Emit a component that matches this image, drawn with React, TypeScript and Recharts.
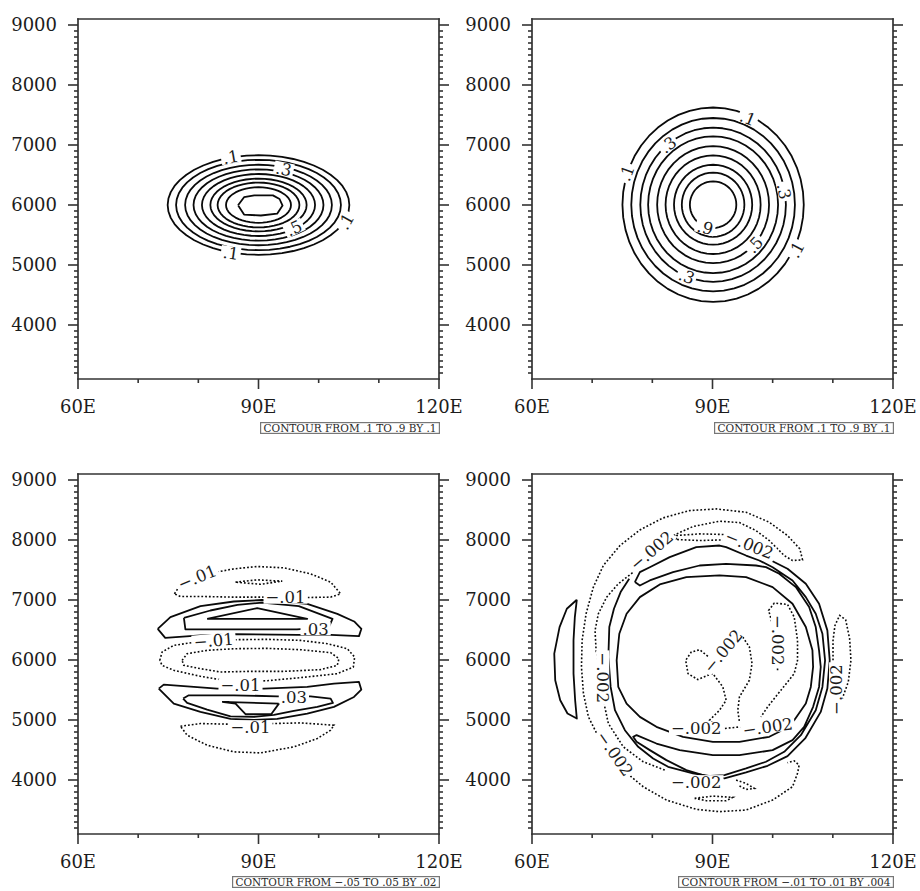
import React from "react";
import { ComposedChart, Line, Scatter, XAxis, YAxis } from "recharts";

type Pt = { x: number; y: number };
type XY = [number, number];
type Label = { x: number; y: number; text: string; angle: number };

// ---- axes ----
const LON_DOMAIN: [number, number] = [60, 120];
const HGT_DOMAIN: [number, number] = [3100, 9100];
const LON_TICKS = [60, 70, 80, 90, 100, 110, 120];
const LON_LABELS: Record<number, string> = { 60: "60E", 90: "90E", 120: "120E" };
const HGT_TICKS = Array.from({ length: 59 }, (_, i) => 3200 + i * 100);
const HGT_LABELS = [4000, 5000, 6000, 7000, 8000, 9000];

// ---- panel 1: flat ellipses, levels .1 .. .8 (semi-axes) ----
const P1_CENTER: XY = [90, 6000];
const P1_RX = [15.1, 13.7, 12.2, 10.8, 9.4, 8.0, 6.8, 5.4];
const P1_RY = [830, 753, 671, 594, 517, 440, 374, 297];
// innermost (.9) is a flat hexagon
const P1_CORE: XY[] = [
  [86.6, 5995], [87.6, 6130], [89.3, 6160], [92.4, 6160], [93.5, 6100],
  [94.0, 5990], [93.1, 5855], [90.4, 5825], [87.6, 5840], [86.6, 5995],
];
const P1_LABELS: Label[] = [
  { x: 85.4, y: 6800, text: ".1", angle: -10 },
  { x: 94.2, y: 6600, text: ".3", angle: 12 },
  { x: 95.9, y: 5617, text: ".5", angle: -25 },
  { x: 104.5, y: 5727, text: ".1", angle: -61 },
  { x: 85.4, y: 5200, text: ".1", angle: 8 },
];

// ---- panel 2: near-circles, levels .1 .. .9 ----
const P2_CENTER: XY = [90.1, 6005];
const P2_RX = [15.07, 13.6, 12.1, 10.8, 9.3, 7.9, 6.5, 5.2, 3.86];
const P2_RY = [1620, 1445, 1285, 1140, 975, 822, 666, 535, 388];
const P2_LABELS: Label[] = [
  { x: 95.9, y: 7450, text: ".1", angle: 22 },
  { x: 82.6, y: 7005, text: ".3", angle: -37 },
  { x: 75.7, y: 6533, text: ".1", angle: -70 },
  { x: 101.9, y: 6227, text: ".3", angle: 79 },
  { x: 88.8, y: 5625, text: ".9", angle: 15 },
  { x: 97.0, y: 5338, text: ".5", angle: -46 },
  { x: 103.9, y: 5255, text: ".1", angle: -62 },
  { x: 85.7, y: 4810, text: ".3", angle: 20 },
];

// ---- panel 3: banded field, -.05 .. .05 by .02 ----
const P3_TOP_OUTER: XY[] = [
  [76.03, 7103], [76.75, 7214], [78.69, 7325], [81.46, 7436], [85.9, 7519], [89.78, 7558],
  [94.22, 7536], [98.66, 7436], [101.99, 7298], [103.65, 7103], [101.99, 7048], [96.99, 7040],
  [91.45, 7048], [85.9, 7048], [80.35, 7059], [77.03, 7059], [76.03, 7103],
];
const P3_TOP_LENS: XY[] = [[86.18, 7298], [89.78, 7336], [93.94, 7314], [90.34, 7262], [86.18, 7298]];
const P3_UP_01: XY[] = [
  [73.25, 6520], [75.36, 6714], [80.35, 6897], [85.9, 6975], [90.6, 7000], [98.1, 6936],
  [103.1, 6769], [105.9, 6642], [107.1, 6520], [106.7, 6398], [102.0, 6420], [96.4, 6420],
  [86.2, 6431], [80.35, 6409], [74.5, 6370], [73.25, 6520],
];
const P3_UP_03: XY[] = [
  [77.6, 6703], [82.0, 6825], [86.5, 6920], [90.6, 6955], [96.7, 6897], [102.3, 6686],
  [101.7, 6548], [96.4, 6509], [77.85, 6509], [77.6, 6703],
];
const P3_UP_05: XY[] = [[81.46, 6686], [89.78, 6864], [98.1, 6686], [81.46, 6686]];
const P3_MID_01: XY[] = [
  [73.59, 5994], [73.98, 6133], [75.92, 6244], [80.35, 6310], [85.9, 6338], [91.45, 6344],
  [96.99, 6327], [101.43, 6272], [104.76, 6188], [105.98, 6050], [105.76, 5883], [103.09, 5772],
  [96.99, 5706], [91.45, 5655], [85.9, 5635], [80.35, 5728], [75.92, 5828], [73.98, 5911],
  [73.59, 5994],
];
const P3_MID_03: XY[] = [
  [77.3, 5994], [78.14, 6105], [81.46, 6161], [85.9, 6188], [91.45, 6194], [96.99, 6172],
  [101.99, 6122], [103.37, 6022], [103.09, 5911], [100.32, 5839], [94.22, 5811], [88.67, 5811],
  [83.68, 5800], [80.35, 5856], [77.58, 5911], [77.3, 5994],
];
const P3_LOW_01: XY[] = [
  [73.42, 5523], [74.25, 5590], [78.14, 5562], [83.13, 5523], [90.89, 5523], [98.1, 5551],
  [102.54, 5606], [106.7, 5634], [107.09, 5506], [105.87, 5384], [102.54, 5218], [98.1, 5107],
  [93.11, 5018], [89.23, 5002], [85.35, 5018], [80.35, 5135], [75.92, 5273], [73.42, 5523],
];
const P3_LOW_03: XY[] = [
  [77.47, 5357], [78.41, 5412], [85.9, 5412], [93.11, 5395], [98.66, 5395], [101.99, 5357],
  [102.37, 5285], [99.77, 5218], [95.88, 5151], [92.56, 5085], [89.23, 5051], [85.35, 5062],
  [81.46, 5174], [78.14, 5285], [77.47, 5357],
];
const P3_LOW_05: XY[] = [[83.96, 5301], [93.39, 5273], [92.11, 5096], [87.84, 5096], [86.18, 5273], [83.96, 5301]];
const P3_BOT_01: XY[] = [
  [77.03, 4896], [80.35, 4941], [85.35, 4930], [92.56, 4941], [96.99, 4952], [102.54, 4913],
  [101.99, 4830], [99.77, 4691], [95.88, 4552], [90.34, 4452], [85.9, 4469], [81.46, 4580],
  [78.14, 4746], [77.03, 4896],
];
const P3_LABELS: Label[] = [
  { x: 79.8, y: 7381, text: "−.01", angle: -22 },
  { x: 94.5, y: 7048, text: "−.01", angle: 0 },
  { x: 99.49, y: 6521, text: ".03", angle: 0 },
  { x: 82.57, y: 6327, text: "−.01", angle: -5 },
  { x: 87.01, y: 5585, text: "−.01", angle: 0 },
  { x: 95.88, y: 5384, text: ".03", angle: 0 },
  { x: 88.67, y: 4885, text: "−.01", angle: 0 },
];

// ---- panel 4: ring field, -.01 .. .01 by .004 ----
const P4_INNER: XY[] = [
  [74.07, 5995], [74.51, 6438], [75.72, 6771], [77.93, 7048], [81.24, 7259], [85.65, 7381],
  [91.17, 7409], [95.58, 7381], [99.99, 7215], [103.3, 6937], [105.51, 6549], [106.61, 6161],
  [106.72, 5884], [106.34, 5551], [105.51, 5274], [103.58, 4997], [101.09, 4803], [99.44, 4720],
  [94.48, 4636], [90.06, 4636], [85.1, 4720], [80.68, 4886], [77.93, 5052], [75.72, 5274],
  [74.34, 5551], [74.07, 5995],
];
const P4_BAND: XY[] = [
  [77.1, 7298], [77.93, 7242], [79.58, 7326], [83.44, 7464], [87.86, 7575], [92.27, 7603],
  [97.23, 7575], [98.89, 7547], [101.09, 7437], [103.85, 7215], [106.06, 6882], [107.16, 6549],
  [107.71, 6161], [107.99, 5884], [107.71, 5551], [106.72, 5219], [105.23, 4886], [103.3, 4664],
  [99.99, 4498], [94.48, 4414], [90.06, 4414], [84.55, 4498], [80.68, 4608], [77.38, 4747],
  [76.82, 4720], [77.38, 4636], [79.58, 4498], [82.34, 4331], [85.65, 4165], [88.96, 4065],
  [91.99, 4082], [95.58, 4193], [98.89, 4304], [101.92, 4470], [104.68, 4747], [107.16, 5163],
  [108.27, 5551], [108.71, 5995], [108.27, 6438], [107.16, 6771], [105.51, 7048], [103.3, 7326],
  [99.99, 7547], [97.78, 7658], [95.58, 7741], [92.27, 7880], [91.17, 7908], [87.3, 7880],
  [82.89, 7714], [79.58, 7547], [77.93, 7464], [77.1, 7298],
];
const P4_OUTER: XY[] = [
  [99.99, 7647], [102.47, 7520], [105.51, 7270], [107.71, 6937], [109.09, 6494], [109.48, 5995],
  [109.09, 5523], [107.99, 5135], [105.4, 4692], [102.47, 4398], [99.16, 4237], [95.58, 4126],
  [91.99, 4026], [86.75, 4110], [82.62, 4220], [80.13, 4359], [77.65, 4553], [75.44, 4830],
  [73.79, 5163], [73.07, 5551], [72.69, 6050], [72.85, 6549], [73.62, 6854], [74.73, 7132],
  [76.16, 7353],
];
const P4_WEST: XY[] = [
  [67.45, 7004], [65.79, 6854], [64.58, 6549], [63.7, 6106], [63.86, 5662], [64.69, 5329],
  [65.9, 5108], [67.45, 5024], [67.17, 5329], [66.9, 5773], [66.9, 6328], [67.12, 6716],
  [67.45, 7004],
];
const P4_DOT_RING: XY[] = [
  [82.06, 4165], [78.48, 4304], [75.17, 4553], [72.69, 4941], [71.86, 5329], [71.31, 5773],
  [70.65, 6161], [70.48, 6494], [71.03, 6771], [72.41, 7048], [74.34, 7270], [76.82, 7464],
  [79.03, 7658], [83.44, 8074], [86.75, 8224], [91.17, 8313], [94.48, 8290], [97.23, 8157],
  [99.44, 7991], [100.82, 7852], [101.92, 7741], [103.3, 7658], [104.96, 7669], [104.52, 7852],
  [102.47, 8074], [99.44, 8296], [95.58, 8462], [90.61, 8518], [86.2, 8490], [81.79, 8368],
  [77.93, 8168], [74.62, 7908], [71.86, 7575], [70.2, 7215], [68.99, 6771], [68.33, 6328],
  [68.22, 5884], [68.55, 5440], [69.38, 5052], [70.76, 4775], [75.17, 4165], [78.48, 3888],
  [82.34, 3666], [87.3, 3511], [91.17, 3472], [95.58, 3500], [99.99, 3666], [103.3, 3888],
  [104.13, 4110], [104.4, 4248], [103.58, 4320], [102.47, 4287],
];
const P4_LENS_N: XY[] = [
  [83.99, 8008], [83.99, 8074], [87.86, 8102], [92.27, 8091], [92.5, 8040], [91.72, 8002],
  [87.86, 7991], [83.99, 8008],
];
const P4_LENS_S: XY[] = [[87.03, 3694], [90.06, 3732], [93.37, 3710], [92.27, 3655], [88.96, 3655], [87.03, 3694]];
const P4_SQUIG: XY[] = [[93.92, 3999], [95.58, 3943], [96.96, 3860], [95.58, 3843], [94.2, 3915]];
const P4_CORE_W: XY[] = [
  [89.23, 6061], [87.86, 6172], [86.48, 6133], [85.54, 5995], [85.93, 5773], [87.58, 5673],
  [89.23, 5745], [90.06, 5773], [91.72, 5551], [92.27, 5329], [91.17, 5163], [89.51, 4997],
  [90.61, 4897],
];
const P4_CORE_E: XY[] = [
  [95.03, 6383], [96.13, 6217], [96.57, 5939], [96.13, 5662], [94.48, 5385], [94.2, 5163],
  [94.48, 4969],
];
const P4_CORE_LINK: XY[] = [[91.44, 4853], [94.75, 4886]];
const P4_EAST_IN: XY[] = [
  [100.82, 5828], [100.65, 6217], [100.1, 6549], [99.33, 6827], [100.27, 6949], [102.47, 6926],
  [103.58, 6716], [104.13, 6328], [104.13, 5995], [103.58, 5773], [101.37, 5496], [99.16, 5219],
  [98.06, 5052],
];
const P4_EAST_OUT: XY[] = [
  [110.03, 5995], [110.03, 6328], [110.36, 6577], [111.13, 6743], [112.13, 6671], [112.79, 6355],
  [113.01, 5995], [112.57, 5634], [111.57, 5357],
];
const P4_LABELS: Label[] = [
  { x: 79.86, y: 7825, text: "−.002", angle: -40 },
  { x: 96.13, y: 7924, text: "−.002", angle: 22 },
  { x: 91.72, y: 6150, text: "−.002", angle: -50 },
  { x: 100.82, y: 6328, text: "−.002", angle: 90 },
  { x: 71.75, y: 5706, text: "−.002", angle: 90 },
  { x: 110.47, y: 5507, text: "−.002", angle: -90 },
  { x: 73.79, y: 4442, text: "−.002", angle: 55 },
  { x: 87.3, y: 3971, text: "−.002", angle: 0 },
  { x: 87.3, y: 4858, text: "−.002", angle: 0 },
  { x: 99.16, y: 4886, text: "−.002", angle: -8 },
];

// ---- styling ----
const FONT = "'DejaVu Serif', 'Liberation Serif', serif";
const AXIS_COLOR = "#333";
const LINE_COLOR = "#0a0a0a";
const TEXT_COLOR = "#1c1c1c";
const PLOT_W = 361;
const PLOT_H = 360;
const Y_AXIS_W = 70;
const TOP_H = 12;
const RIGHT_W = 40;
const BOTTOM_H = 40;

const toPts = (a: XY[]): Pt[] => a.map(([x, y]) => ({ x, y }));

// closed outline of a contour ring given its centre and semi-axes
function ring([cx, cy]: XY, rx: number, ry: number): Pt[] {
  const pts: Pt[] = [];
  for (let i = 0; i <= 48; i++) {
    const t = (i / 48) * Math.PI * 2;
    pts.push({ x: cx + rx * Math.cos(t), y: cy + ry * Math.sin(t) });
  }
  return pts;
}

const GLYPH_W: Record<string, number> = { ".": 0.318, "−": 0.838 };

function ContourLabel(props: any) {
  const { cx, cy, payload } = props;
  if (cx == null || cy == null) return null;
  const fs = 16.5;
  const w = [...payload.text].reduce((s: number, c: string) => s + (GLYPH_W[c] ?? 0.636), 0) * fs + 4;
  const h = fs * 0.8;
  return (
    <g transform={`rotate(${payload.angle} ${cx} ${cy})`}>
      <rect x={cx - w / 2} y={cy - h / 2} width={w} height={h} fill="#fff" />
      <text x={cx} y={cy} dy="0.36em" textAnchor="middle" fontFamily={FONT} fontSize={fs} fill={TEXT_COLOR}>
        {payload.text}
      </text>
    </g>
  );
}

function makeTick(side: "bottom" | "top" | "left" | "right") {
  return (props: any) => {
    const { x, y, payload } = props;
    const v = payload.value as number;
    const horizontal = side === "bottom" || side === "top";
    const major = horizontal ? v in LON_LABELS : v % 1000 === 0;
    const len = major ? 10 : 4;
    if (horizontal) {
      const dir = side === "bottom" ? 1 : -1;
      return (
        <g>
          <line x1={x} y1={y} x2={x} y2={y + dir * len} stroke={AXIS_COLOR} strokeWidth={1.6} />
          {side === "bottom" && major && (
            <text x={x} y={y + 34} textAnchor="middle" fontFamily={FONT} fontSize={18} fill={TEXT_COLOR}>
              {LON_LABELS[v]}
            </text>
          )}
        </g>
      );
    }
    const dir = side === "left" ? -1 : 1;
    return (
      <g>
        <line x1={x} y1={y} x2={x + dir * len} y2={y} stroke={AXIS_COLOR} strokeWidth={1.6} />
        {side === "left" && HGT_LABELS.includes(v) && (
          <text x={x - 21} y={y} dy="0.36em" textAnchor="end" fontFamily={FONT} fontSize={18} fill={TEXT_COLOR}>
            {v}
          </text>
        )}
      </g>
    );
  };
}

const AXIS_LINE = { stroke: AXIS_COLOR, strokeWidth: 1.7, strokeLinecap: "square" as const };

function Panel({
  left,
  top,
  solid,
  dotted,
  labels,
  caption,
  captionWidth,
}: {
  left: number;
  top: number;
  solid: Pt[][];
  dotted: Pt[][];
  labels: Label[];
  caption: string;
  captionWidth: number;
}) {
  const capLeft = Y_AXIS_W + PLOT_W + 1 - captionWidth;
  const capTop = TOP_H + PLOT_H + 42.5;
  return (
    <div style={{ position: "absolute", left: left - Y_AXIS_W, top: top - TOP_H }}>
      <ComposedChart
        width={Y_AXIS_W + PLOT_W + RIGHT_W}
        height={TOP_H + PLOT_H + BOTTOM_H}
        margin={{ top: 0, right: 0, bottom: 0, left: 0 }}
        style={{ overflow: "visible" }}
      >
        <XAxis
          xAxisId="b"
          dataKey="x"
          type="number"
          domain={LON_DOMAIN}
          ticks={LON_TICKS}
          interval={0}
          allowDataOverflow
          height={BOTTOM_H}
          tickSize={0}
          tickMargin={0}
          tickLine={false}
          axisLine={AXIS_LINE}
          tick={makeTick("bottom")}
        />
        <XAxis
          xAxisId="t"
          orientation="top"
          type="number"
          domain={LON_DOMAIN}
          ticks={LON_TICKS}
          interval={0}
          allowDataOverflow
          height={TOP_H}
          tickSize={0}
          tickMargin={0}
          tickLine={false}
          axisLine={AXIS_LINE}
          tick={makeTick("top")}
        />
        <YAxis
          yAxisId="l"
          dataKey="y"
          type="number"
          domain={HGT_DOMAIN}
          ticks={HGT_TICKS}
          interval={0}
          allowDataOverflow
          width={Y_AXIS_W}
          tickSize={0}
          tickMargin={0}
          tickLine={false}
          axisLine={AXIS_LINE}
          tick={makeTick("left")}
        />
        <YAxis
          yAxisId="r"
          orientation="right"
          type="number"
          domain={HGT_DOMAIN}
          ticks={HGT_TICKS}
          interval={0}
          allowDataOverflow
          width={RIGHT_W}
          tickSize={0}
          tickMargin={0}
          tickLine={false}
          axisLine={AXIS_LINE}
          tick={makeTick("right")}
        />
        {solid.map((pts, i) => (
          <Line
            key={`s${i}`}
            data={pts}
            dataKey="y"
            xAxisId="b"
            yAxisId="l"
            type="linear"
            stroke={LINE_COLOR}
            strokeWidth={1.8}
            strokeLinejoin="round"
            dot={false}
            activeDot={false}
            legendType="none"
            isAnimationActive={false}
          />
        ))}
        {dotted.map((pts, i) => (
          <Line
            key={`d${i}`}
            data={pts}
            dataKey="y"
            xAxisId="b"
            yAxisId="l"
            type="linear"
            stroke={LINE_COLOR}
            strokeWidth={1.6}
            strokeDasharray="1.8 2"
            dot={false}
            activeDot={false}
            legendType="none"
            isAnimationActive={false}
          />
        ))}
        <Scatter
          data={labels}
          xAxisId="b"
          yAxisId="l"
          shape={(p: any) => <ContourLabel {...p} />}
          legendType="none"
          isAnimationActive={false}
        />
      </ComposedChart>
      <svg
        width={captionWidth}
        height={12}
        style={{ position: "absolute", left: capLeft, top: capTop, overflow: "visible" }}
      >
        <rect x={0.6} y={0.6} width={captionWidth - 1.2} height={10.8} fill="#fff" stroke="#777" strokeWidth={1.2} />
        <text
          x={captionWidth / 2}
          y={9.5}
          textAnchor="middle"
          fontFamily={FONT}
          fontSize={11}
          fill="#2a2a2a"
          textLength={captionWidth - 7}
          lengthAdjust="spacingAndGlyphs"
        >
          {caption}
        </text>
      </svg>
    </div>
  );
}

export default function App() {
  const p1Solid = [...P1_RX.map((rx, i) => ring(P1_CENTER, rx, P1_RY[i])), toPts(P1_CORE)];
  const p2Solid = P2_RX.map((rx, i) => ring(P2_CENTER, rx, P2_RY[i]));
  const p3Solid = [P3_UP_01, P3_UP_03, P3_UP_05, P3_LOW_01, P3_LOW_03, P3_LOW_05].map(toPts);
  const p3Dotted = [P3_TOP_OUTER, P3_TOP_LENS, P3_MID_01, P3_MID_03, P3_BOT_01].map(toPts);
  const p4Solid = [P4_INNER, P4_BAND, P4_OUTER, P4_WEST].map(toPts);
  const p4Dotted = [
    P4_DOT_RING, P4_LENS_N, P4_LENS_S, P4_SQUIG, P4_CORE_W, P4_CORE_E, P4_CORE_LINK, P4_EAST_IN, P4_EAST_OUT,
  ].map(toPts);

  return (
    <div style={{ position: "absolute", left: 0, top: 0, width: 920, height: 891, background: "#fff", overflow: "hidden" }}>
      <Panel left={77.7} top={19.3} solid={p1Solid} dotted={[]} labels={P1_LABELS}
        caption="CONTOUR FROM .1 TO .9 BY .1" captionWidth={180} />
      <Panel left={531.7} top={19.3} solid={p2Solid} dotted={[]} labels={P2_LABELS}
        caption="CONTOUR FROM .1 TO .9 BY .1" captionWidth={180} />
      <Panel left={77.7} top={473.5} solid={p3Solid} dotted={p3Dotted} labels={P3_LABELS}
        caption="CONTOUR FROM −.05 TO .05 BY .02" captionWidth={208} />
      <Panel left={531.7} top={473.5} solid={p4Solid} dotted={p4Dotted} labels={P4_LABELS}
        caption="CONTOUR FROM −.01 TO .01 BY .004" captionWidth={216} />
    </div>
  );
}
